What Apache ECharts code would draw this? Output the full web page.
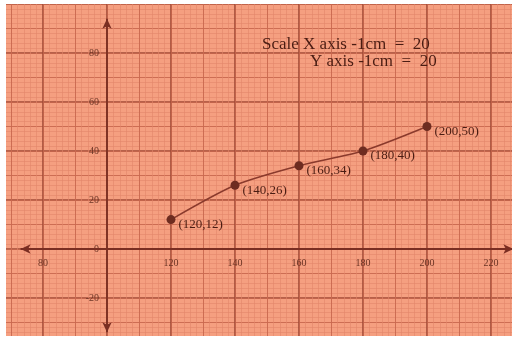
<!DOCTYPE html>
<html>
<head>
<meta charset="utf-8">
<script src="https://cdn.jsdelivr.net/npm/echarts@6/dist/echarts.min.js"></script>
<style>
html, body { margin: 0; padding: 0; background: #fff; }
#paper { position: absolute; left: 6px; top: 4px; width: 506px; height: 332px; overflow: hidden; }
#main { position: absolute; left: -6px; top: -4px; width: 517px; height: 340px; }
</style>
</head>
<body>
<div id="paper"><div id="main"></div></div>
<script>
// points
var xValues = [120, 140, 160, 180, 200];
var yValues = [12, 26, 34, 40, 50];
var pointLabels = ['(120,12)', '(140,26)', '(160,34)', '(180,40)', '(200,50)'];
// where the drawn axes (with arrows) start and end, in data units
var xAxisEnds = [73, 227];
var yAxisEnds = [-34, 94];
var originX = 100;

var majorColor = '#a24c38';
var midColor = '#c5654b';
var minorColor = '#e2866a';
var inkColor = '#4a1c12';

function buildData() {
	var out = [];
	for (var i = 0; i < xValues.length; i++) {
		out.push({ value: [xValues[i], yValues[i]], label: { formatter: pointLabels[i] } });
	}
	return out;
}

var dom = document.getElementById('main');
var myChart = echarts.init(dom);

var option = {
	backgroundColor: '#f59f80',
	animation: false,
	title: [{
		text: 'Scale X axis -1cm  =  20',
		left: 257, top: 31,
		textStyle: { fontFamily: 'Liberation Serif', fontSize: 17, fontWeight: 'normal', color: inkColor }
	}, {
		text: 'Y axis -1cm  =  20',
		left: 305, top: 48,
		textStyle: { fontFamily: 'Liberation Serif', fontSize: 17, fontWeight: 'normal', color: inkColor }
	}],
	// grid reaches past the paper so the ticks stay on multiples of 20
	grid: { left: -21, right: -38, top: 4, bottom: -7, outerBoundsMode: 'none', containLabel: false },
	xAxis: [{
		type: 'value', min: 60, max: 240, interval: 20,
		position: 'bottom', offset: -98,
		axisLine: { show: false, onZero: false },
		axisTick: { show: false },
		axisLabel: {
			margin: 9, fontFamily: 'Liberation Serif', fontSize: 10, color: '#6b3424',
			formatter: function (v) { return v === originX ? '' : String(v); }
		},
		splitLine: { show: true, lineStyle: { color: majorColor, width: 1.6 } },
		minorTick: { show: false, splitNumber: 10 },
		minorSplitLine: { show: true, lineStyle: { color: minorColor, width: 0.6 } }
	}, {
		type: 'value', min: 60, max: 240, interval: 10, gridIndex: 0,
		axisLine: { show: false }, axisTick: { show: false }, axisLabel: { show: false },
		splitLine: { show: true, lineStyle: { color: midColor, width: 0.8 } }
	}],
	yAxis: [{
		type: 'value', min: -40, max: 100, interval: 20,
		position: 'left', offset: -128,
		axisLine: { show: false, onZero: false },
		axisTick: { show: false },
		axisLabel: {
			margin: 8, fontFamily: 'Liberation Serif', fontSize: 10, color: '#6b3424',
			formatter: function (v) { return v === 100 || v === -40 ? '' : String(v); }
		},
		splitLine: { show: true, lineStyle: { color: majorColor, width: 1.6 } },
		minorTick: { show: false, splitNumber: 10 },
		minorSplitLine: { show: true, lineStyle: { color: minorColor, width: 0.6 } }
	}, {
		type: 'value', min: -40, max: 100, interval: 10, gridIndex: 0,
		axisLine: { show: false }, axisTick: { show: false }, axisLabel: { show: false },
		splitLine: { show: true, lineStyle: { color: midColor, width: 0.8 } }
	}],
	series: [{
		type: 'line',
		xAxisIndex: 0, yAxisIndex: 0,
		data: buildData(),
		smooth: 0.25,
		symbol: 'circle',
		symbolSize: 9,
		itemStyle: { color: '#6e2c20' },
		lineStyle: { color: '#8a3a2c', width: 1.5 },
		label: {
			show: true, position: 'right', offset: [-2, 5],
			fontFamily: 'Liberation Serif', fontSize: 13, color: inkColor
		},
		markLine: {
			silent: true,
			symbol: ['arrow', 'arrow'],
			symbolSize: [7, 10],
			label: { show: false },
			lineStyle: { color: '#7a2e22', width: 1.8, type: 'solid' },
			data: [
				[{ coord: [xAxisEnds[0], 0] }, { coord: [xAxisEnds[1], 0] }],
				[{ coord: [originX, yAxisEnds[0]] }, { coord: [originX, yAxisEnds[1]] }]
			]
		}
	}]
};

myChart.setOption(option, true);
window.addEventListener('resize', function () {
	myChart.resize();
});
</script>
</body>
</html>
